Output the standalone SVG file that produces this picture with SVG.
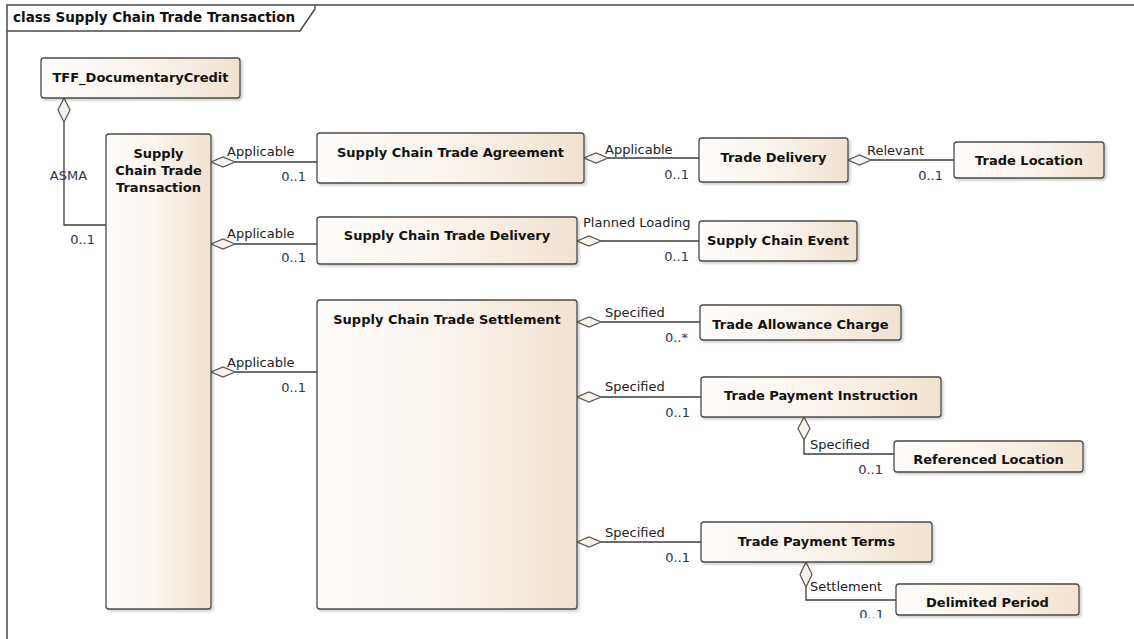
<svg xmlns="http://www.w3.org/2000/svg" width="1134" height="639" viewBox="0 0 1134 639">
<style>
.frame{fill:none;stroke:#4a4a4a;stroke-width:1.5}
.box{fill:url(#g);stroke:#4a4a4a;stroke-width:1.3;filter:url(#sh)}
.nt{font-family:"DejaVu Sans",Verdana,sans-serif;font-size:13px;font-weight:bold;fill:#111;text-anchor:middle}
.title{font-family:"DejaVu Sans",Verdana,sans-serif;font-size:13.5px;font-weight:bold;fill:#111}
.ln{fill:none;stroke:#3c3c3c;stroke-width:1.3}
.dm{fill:#F8F2EA;stroke:#555;stroke-width:1.2}
.rl{font-family:"DejaVu Sans",Verdana,sans-serif;font-size:13px;fill:#222}
.mu{font-family:"DejaVu Sans",Verdana,sans-serif;font-size:13px;fill:#2a3552;text-anchor:end}
</style>
<defs>
<linearGradient id="g" x1="0" y1="0" x2="1" y2="0">
<stop offset="0" stop-color="#FEFCFA"/>
<stop offset="0.45" stop-color="#FBF5EF"/>
<stop offset="1" stop-color="#F1E2D0"/>
</linearGradient>
<filter id="sh" x="-10%" y="-10%" width="130%" height="130%">
<feDropShadow dx="2" dy="2" stdDeviation="1" flood-color="#000" flood-opacity="0.18"/>
</filter>
<clipPath id="bot"><rect x="0" y="0" width="1134" height="618"/></clipPath>
</defs>
<rect x="0" y="0" width="1134" height="639" fill="#fff"/>
<g id="frame">
<path class="frame" d="M7,639 V5 H1134"/>
<path class="frame" d="M7,31 H300 L315,9 V5"/>
<text class="title" x="13" y="22">class Supply Chain Trade Transaction</text>
</g>
<g id="connectors">
<path class="ln" d="M64,122 V225 H106"/>
<path class="dm" d="M64,98 L70,110 L64,122 L58,110 Z"/>
<text class="mu" x="68.5" y="180" style="text-anchor:middle">ASMA</text>
<text class="mu" x="95" y="244">0..1</text>
<path class="ln" d="M235,162 H317"/>
<path class="dm" d="M211,162 L223,157 L235,162 L223,167 Z"/>
<text class="rl" x="227" y="156">Applicable</text>
<text class="mu" x="306" y="181">0..1</text>
<path class="ln" d="M235,244 H317"/>
<path class="dm" d="M211,244 L223,239 L235,244 L223,249 Z"/>
<text class="rl" x="227" y="238">Applicable</text>
<text class="mu" x="306" y="262">0..1</text>
<path class="ln" d="M235,372 H317"/>
<path class="dm" d="M211,372 L223,367 L235,372 L223,377 Z"/>
<text class="rl" x="227" y="367">Applicable</text>
<text class="mu" x="306" y="392">0..1</text>
<path class="ln" d="M608,158 H699"/>
<path class="dm" d="M584,158 L596,153 L608,158 L596,163 Z"/>
<text class="rl" x="605" y="154">Applicable</text>
<text class="mu" x="689" y="179">0..1</text>
<path class="ln" d="M871,160 H954"/>
<path class="dm" d="M848,160 L859.5,155 L871,160 L859.5,165 Z"/>
<text class="rl" x="867" y="155">Relevant</text>
<text class="mu" x="943" y="180">0..1</text>
<path class="ln" d="M601,241 H699"/>
<path class="dm" d="M577,241 L589,236 L601,241 L589,246 Z"/>
<text class="rl" x="583" y="227">Planned Loading</text>
<text class="mu" x="689" y="261">0..1</text>
<path class="ln" d="M601,322 H700"/>
<path class="dm" d="M577,322 L589,317 L601,322 L589,327 Z"/>
<text class="rl" x="605" y="317">Specified</text>
<text class="mu" x="688" y="342">0..*</text>
<path class="ln" d="M601,397 H701"/>
<path class="dm" d="M577,397 L589,392 L601,397 L589,402 Z"/>
<text class="rl" x="605" y="391">Specified</text>
<text class="mu" x="690" y="417">0..1</text>
<path class="ln" d="M804,440 V454 H894"/>
<path class="dm" d="M804,417 L810,428.5 L804,440 L798,428.5 Z"/>
<text class="rl" x="810" y="449">Specified</text>
<text class="mu" x="883" y="474">0..1</text>
<path class="ln" d="M601,542 H701"/>
<path class="dm" d="M577,542 L589,537 L601,542 L589,547 Z"/>
<text class="rl" x="605" y="537">Specified</text>
<text class="mu" x="690" y="562">0..1</text>
<path class="ln" d="M806,587 V600 H896"/>
<path class="dm" d="M806,562 L812,574.5 L806,587 L800,574.5 Z"/>
<text class="rl" x="810" y="591">Settlement</text>
<text class="mu" x="884" y="619" clip-path="url(#bot)">0..1</text>
</g>
<g id="TFF_DocumentaryCredit">
<rect class="box" x="41" y="58" width="199" height="40" rx="3"/>
<text class="nt" x="140.5" y="82">TFF_DocumentaryCredit</text>
</g>
<g id="SupplyChainTradeTransaction">
<rect class="box" x="106" y="134" width="105" height="475" rx="3"/>
<text class="nt" x="158.5" y="158">Supply</text>
<text class="nt" x="158.5" y="175">Chain Trade</text>
<text class="nt" x="158.5" y="192">Transaction</text>
</g>
<g id="SupplyChainTradeAgreement">
<rect class="box" x="317" y="133" width="267" height="50" rx="3"/>
<text class="nt" x="450.5" y="157">Supply Chain Trade Agreement</text>
</g>
<g id="SupplyChainTradeDelivery">
<rect class="box" x="317" y="217" width="260" height="47" rx="3"/>
<text class="nt" x="447" y="240">Supply Chain Trade Delivery</text>
</g>
<g id="SupplyChainTradeSettlement">
<rect class="box" x="317" y="300" width="260" height="309" rx="3"/>
<text class="nt" x="447" y="324">Supply Chain Trade Settlement</text>
</g>
<g id="TradeDelivery">
<rect class="box" x="699" y="138" width="149" height="44" rx="3"/>
<text class="nt" x="773.5" y="162">Trade Delivery</text>
</g>
<g id="TradeLocation">
<rect class="box" x="954" y="142" width="150" height="36" rx="3"/>
<text class="nt" x="1029" y="165">Trade Location</text>
</g>
<g id="SupplyChainEvent">
<rect class="box" x="699" y="221" width="158" height="40" rx="3"/>
<text class="nt" x="778" y="245">Supply Chain Event</text>
</g>
<g id="TradeAllowanceCharge">
<rect class="box" x="700" y="305" width="201" height="35" rx="3"/>
<text class="nt" x="800.5" y="329">Trade Allowance Charge</text>
</g>
<g id="TradePaymentInstruction">
<rect class="box" x="701" y="377" width="240" height="40" rx="3"/>
<text class="nt" x="821" y="400">Trade Payment Instruction</text>
</g>
<g id="ReferencedLocation">
<rect class="box" x="894" y="441" width="189" height="31" rx="3"/>
<text class="nt" x="988.5" y="464">Referenced Location</text>
</g>
<g id="TradePaymentTerms">
<rect class="box" x="701" y="522" width="231" height="40" rx="3"/>
<text class="nt" x="816.5" y="546">Trade Payment Terms</text>
</g>
<g id="DelimitedPeriod">
<rect class="box" x="896" y="584" width="183" height="31" rx="3"/>
<text class="nt" x="987.5" y="607">Delimited Period</text>
</g>
</svg>
